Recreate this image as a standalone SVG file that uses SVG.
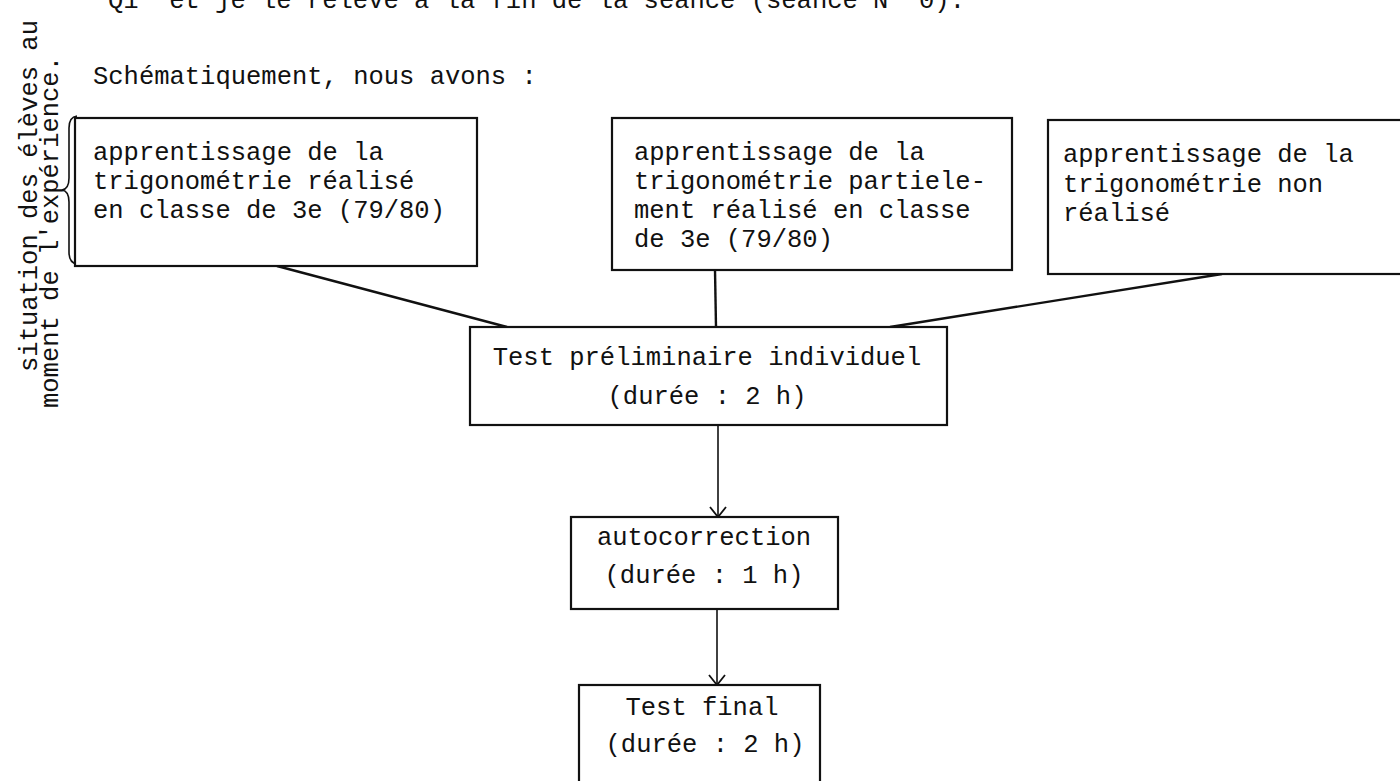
<svg xmlns="http://www.w3.org/2000/svg" width="1400" height="781" viewBox="0 0 1400 781">
<defs>
<style>
.t{font-family:"Liberation Mono","Courier New",monospace;font-size:25.5px;fill:#111}
.c{text-anchor:middle}
.box{fill:#fff;stroke:#111;stroke-width:2.2}
.ln{fill:none;stroke:#111;stroke-width:2.4}
.ar{fill:none;stroke:#111;stroke-width:1.6}
</style>
<marker id="v" viewBox="0 0 16 20" refX="14" refY="10" markerWidth="16" markerHeight="20" markerUnits="userSpaceOnUse" orient="auto">
<path d="M4,2 L14,10 L4,18" fill="none" stroke="#111" stroke-width="1.8"/>
</marker>
</defs>
<rect width="1400" height="781" fill="#fff"/>
<text class="t" x="108" y="8">Q1" et je le relève à la fin de la séance (séance N° 0).</text>
<text class="t" x="93" y="84">Schématiquement, nous avons :</text>
<g id="side-label">
<text class="t" transform="translate(37,372) rotate(-90)">situation des élèves au</text>
<text class="t" transform="translate(58,408) rotate(-90)">moment de l'expérience.</text>
<path class="ar" d="M77,116 Q69,117 69,128 L69,178 Q69,189 62,190 Q69,191 69,202 L69,252 Q69,263 77,264"/>
</g>
<g id="connectors">
<path class="ln" d="M277,266 L507,327"/>
<path class="ln" d="M715,270 L716,327"/>
<path class="ln" d="M1222,274 L890,327"/>
<path class="ar" d="M718,425 L718,517" marker-end="url(#v)"/>
<path class="ar" d="M717,609 L717,685" marker-end="url(#v)"/>
</g>
<g id="n1">
<rect class="box" x="75" y="118" width="402" height="148"/>
<text class="t" x="93" y="160">apprentissage de la</text>
<text class="t" x="93" y="189">trigonométrie réalisé</text>
<text class="t" x="93" y="218">en classe de 3e (79/80)</text>
</g>
<g id="n2">
<rect class="box" x="612" y="118" width="400" height="152"/>
<text class="t" x="634" y="160">apprentissage de la</text>
<text class="t" x="634" y="189">trigonométrie partiele-</text>
<text class="t" x="634" y="218">ment réalisé en classe</text>
<text class="t" x="634" y="247">de 3e (79/80)</text>
</g>
<g id="n3">
<rect class="box" x="1048" y="120" width="360" height="154"/>
<text class="t" x="1063" y="162">apprentissage de la</text>
<text class="t" x="1063" y="192">trigonométrie non</text>
<text class="t" x="1063" y="221">réalisé</text>
</g>
<g id="n4">
<rect class="box" x="470" y="327" width="477" height="98"/>
<text class="t c" x="707" y="365">Test préliminaire individuel</text>
<text class="t c" x="707" y="404">(durée : 2 h)</text>
</g>
<g id="n5">
<rect class="box" x="571" y="517" width="267" height="92"/>
<text class="t c" x="704" y="545">autocorrection</text>
<text class="t c" x="704" y="583">(durée : 1 h)</text>
</g>
<g id="n6">
<rect class="box" x="579" y="685" width="241" height="110"/>
<text class="t c" x="702" y="715">Test final</text>
<text class="t c" x="705" y="752">(durée : 2 h)</text>
</g>
</svg>
